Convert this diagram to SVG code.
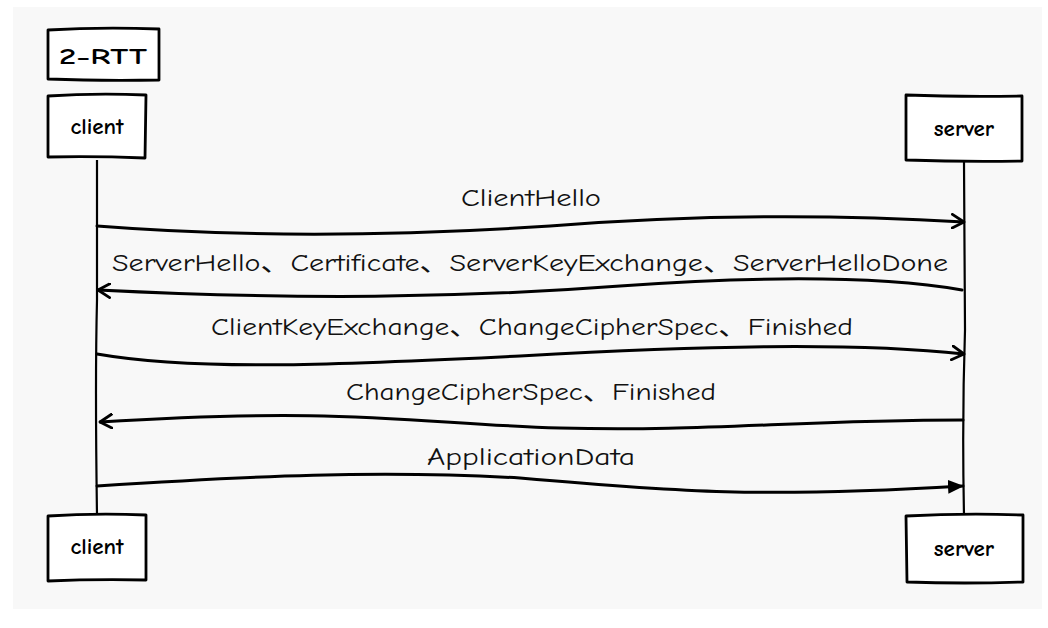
<svg xmlns="http://www.w3.org/2000/svg" width="1048" height="628" viewBox="0 0 1048 628">
  <defs>
    <style>
      .box { fill: #ffffff; stroke: #000000; stroke-width: 2.8; stroke-linejoin: round; }
      .life { fill: none; stroke: #000000; stroke-width: 2.2; }
      .msg { fill: none; stroke: #000000; stroke-width: 3; stroke-linecap: round; }
      .lbl { font-family: "Comic Neue", "Liberation Sans", "Noto Sans CJK SC", sans-serif; font-size: 24px; fill: #111111; text-anchor: middle; }
      .nlbl { font-family: "Comic Neue", "Liberation Sans", sans-serif; font-size: 23px; font-weight: bold; fill: #000000; text-anchor: middle; }
    </style>
    <marker id="open" viewBox="0 0 14 16" refX="13" refY="8" markerWidth="14" markerHeight="16" markerUnits="userSpaceOnUse" orient="auto">
      <path d="M1,1 L13,8 L1,15" fill="none" stroke="#000" stroke-width="2.8" stroke-linecap="round" stroke-linejoin="round"/>
    </marker>
    <marker id="solid" viewBox="0 0 16 16" refX="15" refY="8" markerWidth="16" markerHeight="16" markerUnits="userSpaceOnUse" orient="auto">
      <path d="M0,1 L16,8 L0,15 Z" fill="#000"/>
    </marker>
  </defs>

  <rect x="0" y="0" width="1048" height="628" fill="#ffffff"/>
  <rect x="13" y="7" width="1029" height="602" fill="#f8f8f8"/>

  <g id="connectors">
    <path class="life" d="M97,160 L97,300 Q95,380 97,515"/>
    <path class="life" d="M964,162 L965,330 Q962,420 964,515"/>

    <path class="msg" marker-end="url(#open)" d="M97,226 C250,238 400,236 550,226 C700,214 830,214 964,222"/>
    <path class="msg" marker-end="url(#open)" d="M962,290 C880,276 760,276 620,286 C460,298 300,300 98,290"/>
    <path class="msg" marker-end="url(#open)" d="M97,354 C200,372 350,364 520,356 C700,346 850,342 964,354"/>
    <path class="msg" marker-end="url(#open)" d="M963,420 C800,420 700,432 560,428 C420,424 350,406 100,422"/>
    <path class="msg" marker-end="url(#solid)" d="M97,486 C250,476 380,470 520,478 C680,492 760,498 963,486"/>
  </g>

  <g id="labels">
    <text class="lbl" x="531" y="206" textLength="140" lengthAdjust="spacingAndGlyphs">ClientHello</text>
    <text class="lbl" x="530" y="271" textLength="836" lengthAdjust="spacingAndGlyphs">ServerHello、Certificate、ServerKeyExchange、ServerHelloDone</text>
    <text class="lbl" x="532" y="335" textLength="642" lengthAdjust="spacingAndGlyphs">ClientKeyExchange、ChangeCipherSpec、Finished</text>
    <text class="lbl" x="531" y="400" textLength="370" lengthAdjust="spacingAndGlyphs">ChangeCipherSpec、Finished</text>
    <text class="lbl" x="531" y="465" textLength="208" lengthAdjust="spacingAndGlyphs">ApplicationData</text>
  </g>

  <g id="title">
    <path class="box" d="M48,30 Q100,27 159,29 L159,80 Q100,81 48,79 Z"/>
    <text class="nlbl" x="103" y="64" font-size="27" font-weight="normal" textLength="88" lengthAdjust="spacingAndGlyphs">2-RTT</text>
  </g>

  <g id="client-top">
    <path class="box" d="M48,96 Q95,93 146,95 L145,158 Q95,156 48,157 Z"/>
    <text class="nlbl" x="97" y="134">client</text>
  </g>

  <g id="server-top">
    <path class="box" d="M906,95 Q960,97 1022,96 L1022,161 Q965,162 906,160 Z"/>
    <text class="nlbl" x="964" y="136">server</text>
  </g>

  <g id="client-bottom">
    <path class="box" d="M48,516 Q95,513 146,515 L146,580 Q95,579 48,581 Z"/>
    <text class="nlbl" x="97" y="554">client</text>
  </g>

  <g id="server-bottom">
    <path class="box" d="M906,516 Q964,513 1023,515 L1023,582 Q964,584 907,582 Z"/>
    <text class="nlbl" x="964" y="556">server</text>
  </g>
</svg>
